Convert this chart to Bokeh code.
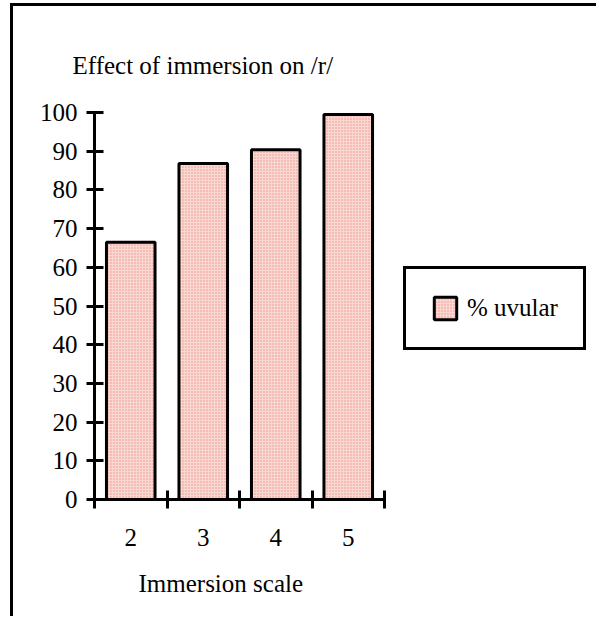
from bokeh.plotting import figure
from bokeh.models import (FixedTicker, Legend, LegendItem, Title, LinearAxis,
                          Range1d)
from bokeh.embed import file_html
from bokeh.resources import INLINE

# ---- data ----
categories = ["2", "3", "4", "5"]
uvular_pct = [66.5, 86.8, 90.4, 99.5]
y_ticks = [0, 10, 20, 30, 40, 50, 60, 70, 80, 90, 100]
series_name = "% uvular"
title_text = "Effect of immersion on /r/"
x_title = "Immersion scale"

x_pos = [int(c) for c in categories]
x_bounds = [v - 0.5 for v in x_pos] + [x_pos[-1] + 0.5]

FONT = "Liberation Serif"
FS = "25px"

# layout (pixels)
W, H = 586, 613
B_LEFT, B_RIGHT, B_TOP, B_BOTTOM = 81, 3, 106, 120
BAR_AREA_W = 290        # width of the category area inside the frame
frame_w = W - B_LEFT - B_RIGHT
span = x_bounds[-1] - x_bounds[0]
x_end = x_bounds[0] + span * frame_w / BAR_AREA_W

p = figure(width=W, height=H, output_backend="svg", toolbar_location=None,
           x_range=Range1d(x_bounds[0], x_end), y_range=Range1d(0, 100),
           x_axis_type=None, y_axis_type=None,
           min_border_left=B_LEFT, min_border_right=B_RIGHT,
           min_border_top=B_TOP, min_border_bottom=B_BOTTOM)
p.styles = {"border-left": "3px solid black", "border-top": "3px solid black",
            "margin-left": "10px", "margin-top": "3px"}
p.grid.visible = False
p.outline_line_color = None
p.background_fill_color = "white"
p.border_fill_color = "white"

r = p.vbar(x=x_pos, top=uvular_pct, bottom=0, width=0.67,
           fill_color="#f9d8d2", line_color="black", line_width=3,
           hatch_pattern="dot", hatch_color="#ee9088", hatch_scale=3,
           hatch_weight=1)

# y axis
ya = LinearAxis(ticker=FixedTicker(ticks=y_ticks))
ya.axis_line_width = 3
ya.major_tick_line_width = 3
ya.major_tick_in = 9
ya.major_tick_out = 8
ya.minor_tick_line_color = None
ya.major_label_standoff = 9
ya.major_label_text_font = FONT
ya.major_label_text_font_size = FS
ya.major_label_text_color = "black"
p.add_layout(ya, "left")

# x axis: ticks at category boundaries, labels at centres
xa = LinearAxis(ticker=FixedTicker(ticks=x_pos, minor_ticks=x_bounds),
                bounds=(x_bounds[0], x_bounds[-1]))
xa.axis_line_width = 3
xa.major_tick_line_color = None
xa.major_tick_in = 0
xa.major_tick_out = 9
xa.minor_tick_line_width = 3
xa.minor_tick_line_color = "black"
xa.minor_tick_in = 9
xa.minor_tick_out = 9
xa.major_label_standoff = 20
xa.major_label_text_font = FONT
xa.major_label_text_font_size = FS
xa.major_label_text_color = "black"
xa.major_label_overrides = {v: c for v, c in zip(x_pos, categories)}
p.add_layout(xa, "below")

# x title
bt = Title(text=x_title, align="left", offset=44, text_font=FONT,
           text_font_size=FS, text_font_style="normal", standoff=38,
           text_color="black")
p.add_layout(bt, "below")

# chart title
t = Title(text=title_text, align="left", offset=-22, text_font=FONT,
          text_font_size=FS, text_font_style="normal", standoff=67,
          text_color="black")
p.add_layout(t, "above")

legend = Legend(items=[LegendItem(label=series_name, renderers=[r])],
                location=(309, 149), padding=25,
                glyph_width=28, glyph_height=28, label_standoff=8,
                label_text_font=FONT, label_text_font_size=FS,
                label_text_color="black",
                border_line_color="black", border_line_width=3,
                border_line_alpha=1,
                background_fill_color="white", background_fill_alpha=1)
p.add_layout(legend, "center")

open("out.html", "w").write(file_html(p, INLINE))
